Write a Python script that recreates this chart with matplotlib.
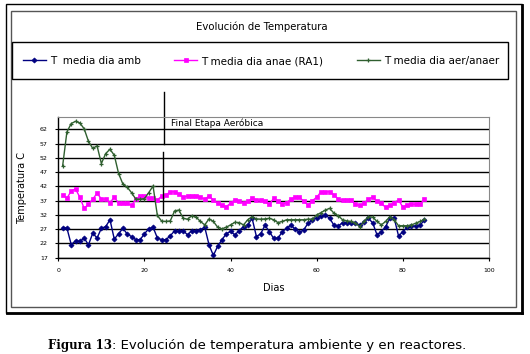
import matplotlib
matplotlib.use("Agg")
import matplotlib.pyplot as plt
from matplotlib.patches import Rectangle
from matplotlib.lines import Line2D

plt.rcParams['font.family'] = ['DejaVu Sans']

# ---------------- data ----------------
days = list(range(1, 86))

t_amb = [27.5, 27.4, 21.6, 22.9, 22.7, 23.9, 21.5, 25.6, 23.9, 27.3,
         27.9, 30.3, 23.5, 25.4, 27.3, 25.3, 24.4, 23.3, 23.3, 25.4,
         27.1, 27.7, 23.9, 23.3, 23.3, 24.7, 26.4, 26.2, 26.5, 25.0,
         26.5, 26.2, 26.8, 27.7, 21.5, 17.8, 21.0, 23.3, 25.4, 26.2,
         25.0, 26.5, 27.9, 28.5, 30.8, 24.4, 25.4, 28.4, 26.1, 23.8,
         23.8, 26.1, 27.3, 28.4, 27.0, 25.9, 26.8, 29.1, 30.2, 31.0,
         31.6, 32.0, 30.8, 28.4, 28.1, 29.3, 29.3, 29.0, 29.0, 28.4,
         29.5, 30.8, 29.2, 25.0, 26.1, 27.9, 30.8, 30.8, 24.6, 26.1,
         27.6, 28.1, 28.1, 28.4, 30.2]

t_anae = [39.0, 37.8, 40.4, 41.1, 38.2, 34.3, 35.7, 37.5, 39.6, 37.6,
          37.5, 36.3, 38.2, 36.1, 36.1, 36.1, 35.3, 37.5, 38.6, 38.6,
          37.8, 37.8, 37.2, 38.6, 39.0, 40.1, 40.1, 39.3, 38.2, 38.6,
          38.6, 38.6, 38.2, 37.5, 38.6, 37.2, 36.1, 35.5, 34.9, 36.1,
          37.2, 36.7, 36.1, 36.7, 37.8, 37.2, 37.2, 36.7, 35.7, 37.8,
          36.9, 35.7, 36.3, 37.5, 38.2, 38.2, 36.7, 35.5, 37.0, 38.2,
          40.1, 40.1, 40.1, 39.0, 37.5, 37.2, 37.2, 37.2, 35.7, 35.3,
          36.1, 37.5, 38.2, 36.7, 36.1, 34.6, 35.5, 36.3, 37.2, 34.7,
          35.5, 35.7, 35.7, 35.7, 37.5]

t_aer = [49.1, 61.1, 64.0, 64.8, 64.2, 62.2, 57.8, 55.3, 56.2, 50.0,
         53.5, 55.0, 52.9, 46.5, 42.8, 41.7, 39.8, 37.5, 37.5, 37.7,
         39.8, 42.1, 31.8, 29.8, 29.7, 29.9, 33.4, 33.7, 30.8, 30.5,
         31.7, 31.2, 29.7, 28.5, 30.6, 29.7, 27.7, 27.1, 27.7, 28.5,
         29.4, 29.3, 28.5, 30.3, 31.4, 30.6, 30.5, 30.6, 30.8, 30.3,
         29.3, 29.7, 30.3, 30.3, 30.3, 30.3, 30.3, 30.5, 30.5, 32.0,
         32.8, 33.7, 34.3, 32.6, 31.7, 30.3, 29.9, 29.7, 29.1, 27.9,
         29.7, 31.4, 31.2, 29.7, 28.5, 29.7, 31.4, 30.3, 28.2, 28.2,
         28.2, 28.5, 29.1, 29.7, 30.5]

series_labels = ["T  media dia amb", "T media dia anae (RA1)", "T media dia aer/anaer"]
series_colors = ["#000080", "#FF00FF", "#2F5F2F"]
series_markers = ["D", "s", "+"]

y_ticks = [17, 22, 27, 32, 37, 42, 47, 52, 57, 62]
x_ticks = [0, 20, 40, 60, 80, 100]
x_ticklabels = ["0", "20", "40", "60", "80", "100"]

final_day = 24.4

# ---------------- figure ----------------
W, H = 530, 354
fig = plt.figure(figsize=(W / 100, H / 100), dpi=100)

def fx(px):
    return px / W

def fy(py):
    return 1 - py / H

# frames
fig.patches.append(Rectangle((fx(6), fy(313)), fx(516), 309 / H, transform=fig.transFigure,
                             fill=False, ec="black", lw=1.0))
fig.add_artist(Line2D([fx(521.5), fx(521.5)], [fy(312.5), fy(5)], transform=fig.transFigure,
                      color="black", lw=2.0))
fig.add_artist(Line2D([fx(7), fx(522)], [fy(312.5), fy(312.5)], transform=fig.transFigure,
                      color="black", lw=2.0))
fig.patches.append(Rectangle((fx(10.5), fy(307)), fx(505), 296.5 / H, transform=fig.transFigure,
                             fill=False, ec="#555555", lw=1.0))
# legend box
fig.patches.append(Rectangle((fx(12), fy(79)), fx(496), 36.5 / H, transform=fig.transFigure,
                             fill=False, ec="black", lw=1.0))

fig.text(fx(262), fy(27), "Evolución de Temperatura", ha="center", va="center", fontsize=7.3)

ax = fig.add_axes([fx(58.3), fy(257.7), fx(489 - 58.3), (257.7 - 117.3) / H])

series = [t_amb, t_anae, t_aer]
handles = []
for vals, lab, col, mk in zip(series, series_labels, series_colors, series_markers):
    h, = ax.plot(days, vals, color=col, lw=1.0, marker=mk,
                 markersize=2.6 if mk != "+" else 3.5, markeredgewidth=0.9 if mk == "+" else 0.5,
                 label=lab)
    handles.append(h)

ax.set_xlim(0, 100)
ax.set_ylim(17, 66.2)
ax.set_yticks(y_ticks)
ax.set_yticklabels([str(v) for v in y_ticks])
ax.set_xticks(x_ticks)
ax.set_xticklabels(x_ticklabels)
ax.tick_params(labelsize=4.5, length=2.5, width=0.8, direction="out", pad=5)
ax.yaxis.grid(True, color="black", lw=1.0)
ax.set_axisbelow(True)
for s in ["top", "right"]:
    ax.spines[s].set_color("#888888")
    ax.spines[s].set_linewidth(0.8)
for s in ["left", "bottom"]:
    ax.spines[s].set_color("black")
    ax.spines[s].set_linewidth(1.0)

ax.set_ylabel("Temperatura C", fontsize=7, labelpad=9)
ax.set_xlabel("Dias", fontsize=7, labelpad=7)

# "Final Etapa Aerobica" marker line and text
ax.plot([final_day + 0.25, final_day + 0.25], [57, 75], color="black", lw=1.0, clip_on=False)
ax.plot([final_day - 0.1, final_day - 0.1], [32.7, 54.1], color="black", lw=1.0, clip_on=False)
ax.text(final_day + 1.8, 64.2, "Final Etapa Aeróbica", fontsize=6.5, va="center", ha="left")

fig.legend(handles=handles, labels=series_labels, loc="center",
           bbox_to_anchor=(fx(261), fy(61)), ncol=3, frameon=False, fontsize=7.5,
           handlelength=2.2, handletextpad=0.4, columnspacing=3.2)

fig.text(fx(112), fy(345), "Figura 13", ha="right", va="center", fontsize=8.5,
         family="DejaVu Serif", weight="bold")
fig.text(fx(112), fy(345), ": Evolución de temperatura ambiente y en reactores.",
         ha="left", va="center", fontsize=9.5)

fig.savefig("out.png", dpi=100)
